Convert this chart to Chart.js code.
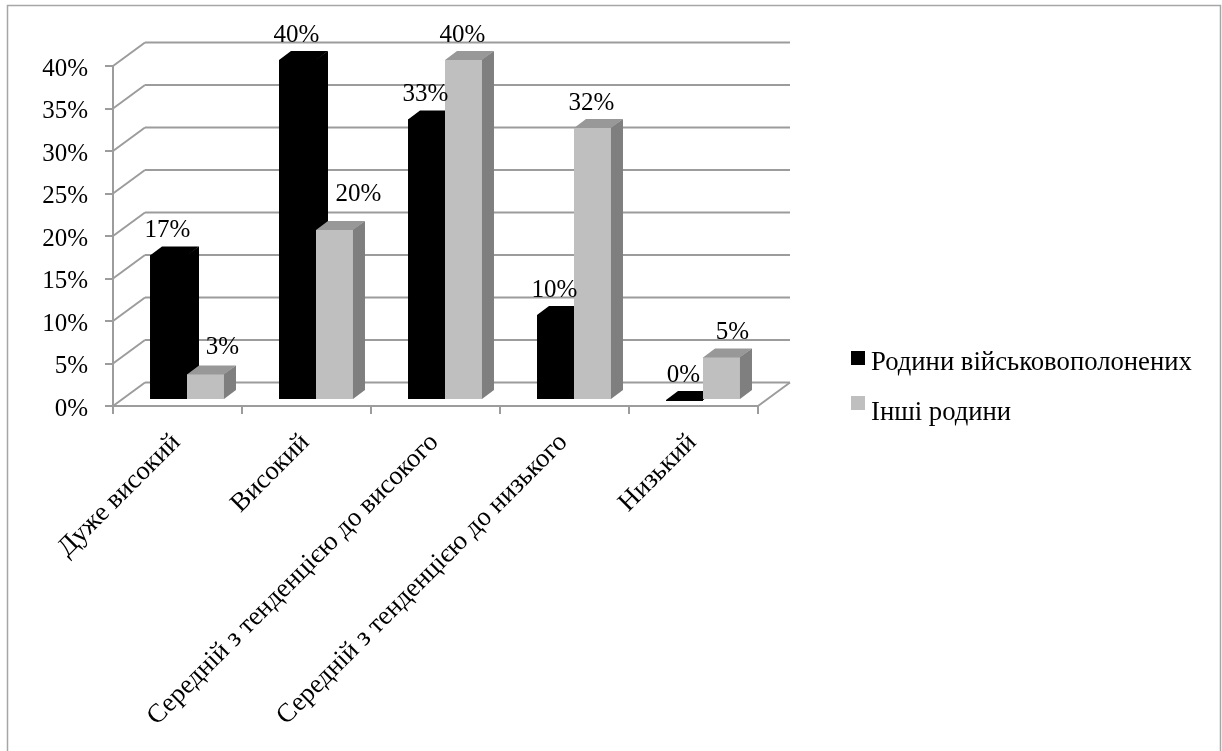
<!DOCTYPE html>
<html>
<head>
<meta charset="utf-8">
<style>
  html, body { margin: 0; padding: 0; background: #fff; }
  canvas { display: block; }
</style>
<script src="https://cdn.jsdelivr.net/npm/chart.js@4"></script>
</head>
<body>
<canvas id="chart" width="1222" height="751"></canvas>
<script>
'use strict';

const categories = ['Дуже високий', 'Високий', 'Середній з тенденцією до високого', 'Середній з тенденцією до низького', 'Низький'];
const pow = [17, 40, 33, 10, 0];
const other = [3, 20, 40, 32, 5];
const seriesNames = ['Родини військовополонених', 'Інші родини'];

const FONT = '"Liberation Serif", "Times New Roman", serif';
const NUM_SIZE = 25;
const TEXT_SIZE = 26.7;
const GRID = '#9c9c9c';

// ── 3d look ───────────────────────────────────────────────────────────────────

const WALL = { dx: 32, dy: -23.5 };   // depth of the box
const BAR_SHIFT = { dx: 9.5, dy: -6 }; // bars stand inside the box
const BAR_DEPTH = { dx: 12, dy: -9 };

const shades = [
  { top: '#000000', side: '#000000' },
  { top: '#989898', side: '#7f7f7f' },
];

// hand moved labels, same as in the source chart: [dataset, category, dx, dy]
const labelNudge = [[1, 0, 18, -2], [1, 1, 25, -11], [1, 4, 12, 0]];

function line(ctx, x1, y1, x2, y2) {
  ctx.beginPath();
  ctx.moveTo(x1, y1);
  ctx.lineTo(x2, y2);
  ctx.stroke();
}

function poly(ctx, pts, color) {
  ctx.fillStyle = color;
  ctx.beginPath();
  pts.forEach((p, i) => i ? ctx.lineTo(p[0], p[1]) : ctx.moveTo(p[0], p[1]));
  ctx.closePath();
  ctx.fill();
}

const box3d = {
  id: 'box3d',
  beforeDatasetsDraw(chart) {
    const { ctx, chartArea: a, scales: { y } } = chart;
    ctx.save();
    // outer frame, the source has no bottom edge
    ctx.strokeStyle = '#a6a6a6';
    ctx.lineWidth = 1.5;
    ctx.beginPath();
    ctx.moveTo(7.5, 751);
    ctx.lineTo(7.5, 5.5);
    ctx.lineTo(1220.5, 5.5);
    ctx.lineTo(1220.5, 751);
    ctx.stroke();

    // back wall and left wall
    ctx.strokeStyle = GRID;
    ctx.lineWidth = 2;
    y.ticks.forEach(t => {
      const py = y.getPixelForValue(t.value);
      line(ctx, a.left, py, a.left + WALL.dx, py + WALL.dy);
      line(ctx, a.left + WALL.dx, py + WALL.dy, a.right + WALL.dx, py + WALL.dy);
    });
    line(ctx, a.right, a.bottom, a.right + WALL.dx, a.bottom + WALL.dy);

    // sides and tops of the bars, fronts are drawn by the library
    // (they run 1px under the front so no seam shows on the black ones)
    ctx.translate(BAR_SHIFT.dx, BAR_SHIFT.dy);
    chart.data.datasets.forEach((ds, i) => {
      chart.getDatasetMeta(i).data.forEach(el => {
        const l = el.x - el.width / 2, r = el.x + el.width / 2;
        const { dx, dy } = BAR_DEPTH;
        poly(ctx, [[r - 1, el.y], [r + dx, el.y + dy], [r + dx, el.base + dy], [r, el.base], [r - 1, el.base]], shades[i].side);
        poly(ctx, [[l, el.y + 1], [l, el.y], [l + dx, el.y + dy], [r + dx, el.y + dy], [r, el.y], [r, el.y + 1]], shades[i].top);
      });
    });
    ctx.restore();

    ctx.save();
    ctx.translate(BAR_SHIFT.dx, BAR_SHIFT.dy);
  },
  afterDatasetsDraw(chart) {
    const { ctx } = chart;
    ctx.restore();

    // value labels
    ctx.save();
    ctx.font = `${NUM_SIZE}px ${FONT}`;
    ctx.fillStyle = '#000';
    ctx.textAlign = 'center';
    ctx.textBaseline = 'middle';
    chart.data.datasets.forEach((ds, i) => {
      chart.getDatasetMeta(i).data.forEach((el, j) => {
        const n = labelNudge.find(m => m[0] === i && m[1] === j);
        const x = el.x + BAR_SHIFT.dx - 1 + (n ? n[2] : 0);
        const y = el.y + BAR_SHIFT.dy - 25 + (n ? n[3] : 0);
        ctx.fillText(ds.data[j] + '%', x, y);
      });
    });

    // legend
    ctx.font = `${TEXT_SIZE}px ${FONT}`;
    ctx.textAlign = 'left';
    chart.data.datasets.forEach((ds, i) => {
      ctx.fillStyle = ds.backgroundColor;
      ctx.fillRect(851, 351 + i * 45, 14, 14);
      ctx.fillStyle = '#000';
      ctx.fillText(ds.label, 871, 362.5 + i * 50);
    });
    ctx.restore();
  },
};

// ── chart ─────────────────────────────────────────────────────────────────────

new Chart(document.getElementById('chart'), {
  type: 'bar',
  data: {
    labels: categories,
    datasets: [
      { label: seriesNames[0], data: pow, backgroundColor: '#000000' },
      { label: seriesNames[1], data: other, backgroundColor: '#bfbfbf' },
    ],
  },
  options: {
    responsive: false,
    animation: false,
    devicePixelRatio: 1,
    datasets: { bar: { categoryPercentage: 0.5735, barPercentage: 1 } },
    layout: { padding: { left: 0, right: 464, top: 66, bottom: 0 } },
    plugins: { legend: { display: false }, tooltip: { enabled: false } },
    scales: {
      x: {
        afterFit(s) { s.height = 345; },
        grid: { drawOnChartArea: false, color: GRID, lineWidth: 2, tickLength: 8 },
        border: { color: GRID, width: 2 },
        ticks: {
          color: '#000',
          font: { family: FONT, size: TEXT_SIZE },
          minRotation: 45, maxRotation: 45,
          autoSkip: false,
          padding: 13,
          labelOffset: -1,
        },
      },
      y: {
        min: 0, max: 40,
        afterFit(s) { s.width = 113; },
        grid: { drawOnChartArea: false, color: GRID, lineWidth: 2, tickLength: 8 },
        border: { color: GRID, width: 2 },
        ticks: {
          stepSize: 5,
          color: '#000',
          font: { family: FONT, size: NUM_SIZE },
          padding: 17,
          labelOffset: 3,
          callback: v => v + '%',
        },
      },
    },
  },
  plugins: [box3d],
});
</script>
</body>
</html>
